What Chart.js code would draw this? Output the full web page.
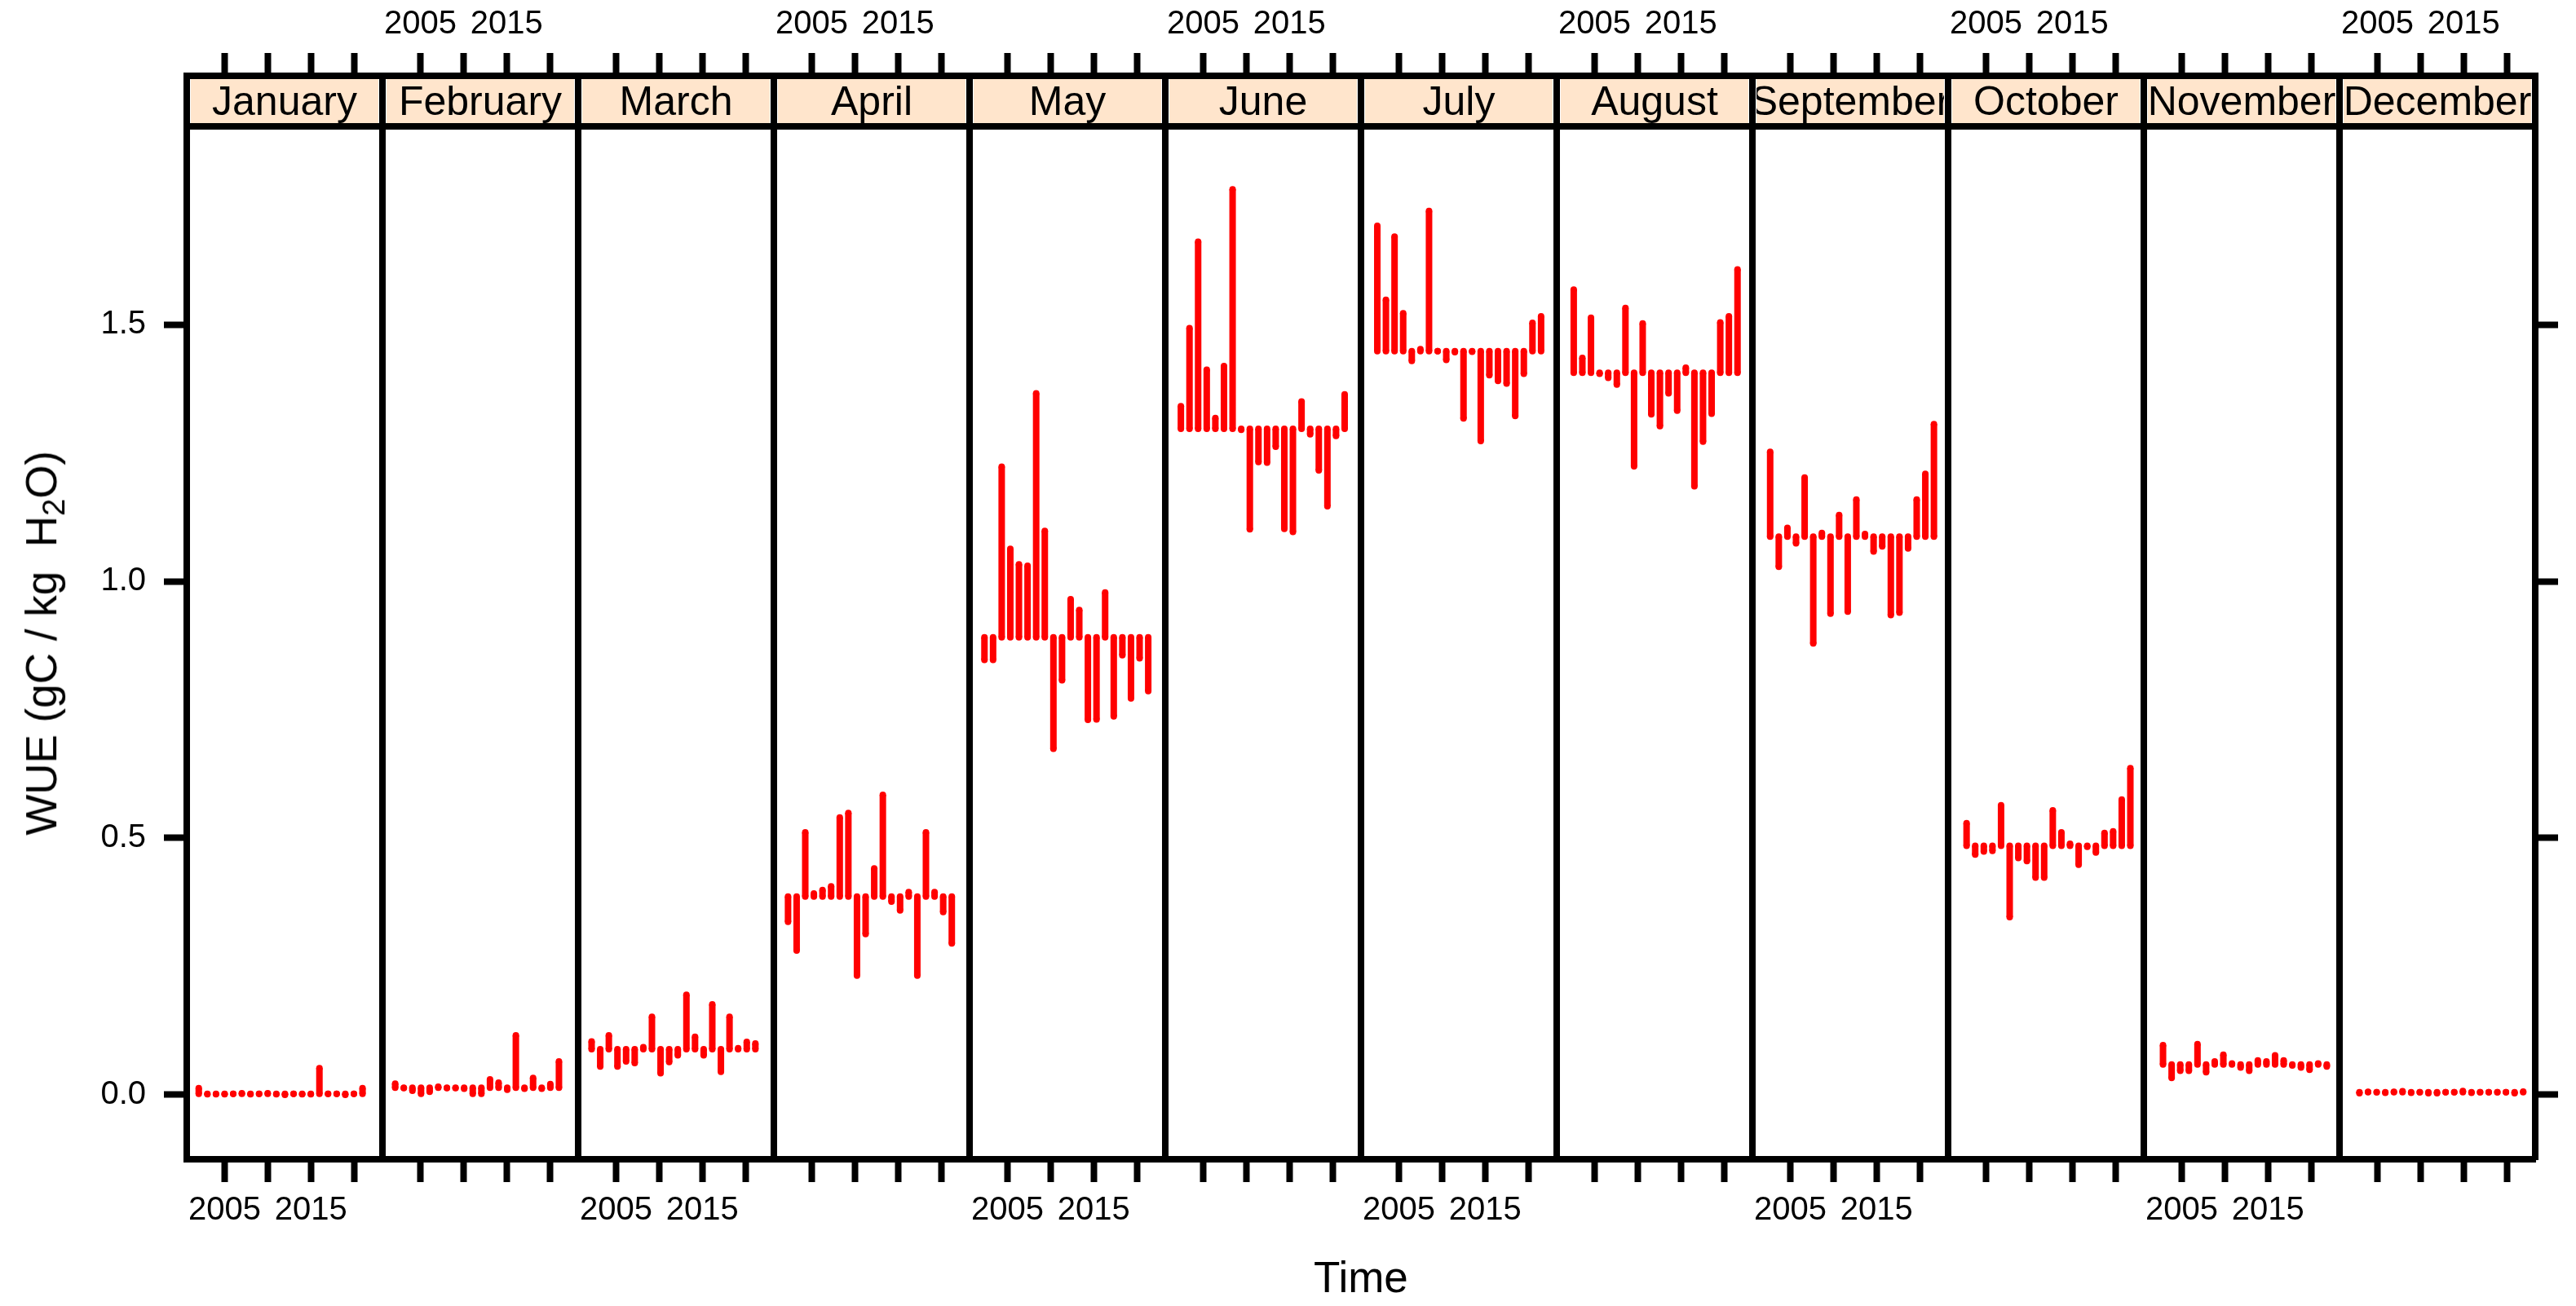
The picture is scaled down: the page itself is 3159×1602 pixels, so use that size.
<!DOCTYPE html>
<html><head><meta charset="utf-8">
<script src="https://cdn.jsdelivr.net/npm/chart.js@4.4.0/dist/chart.umd.min.js"></script>
<style>
html,body{margin:0;padding:0;background:#fff;}
#root{position:relative;width:3159px;height:1602px;overflow:hidden;font-family:'Liberation Sans',Arial,sans-serif;background:#fff;}
#root canvas{position:absolute;top:0;}
.strip{position:absolute;background:#ffe5cc;display:flex;justify-content:center;align-items:center;overflow:hidden;white-space:nowrap;font-size:50px;color:#000;z-index:5;}
.sbar{position:absolute;height:8px;background:#000;z-index:6;}
.title{position:absolute;color:#000;white-space:nowrap;font-size:53px;z-index:7;}
</style></head><body><div id="root"></div>
<script>
// ---- data ----
const months = ['January','February','March','April','May','June','July','August','September','October','November','December'];
const years = [2002,2003,2004,2005,2006,2007,2008,2009,2010,2011,2012,2013,2014,2015,2016,2017,2018,2019,2020,2021];
const monthMean = [0.002,0.014,0.089,0.386,0.891,1.297,1.448,1.406,1.087,0.485,0.059,0.005];
const wueJan = [0.013,0.001,0.001,0.001,0.002,0.003,0.001,0.002,0.003,0.001,0.000,0.002,0.001,0.001,0.052,0.002,0.002,0.000,0.002,0.013];
const wueFeb = [0.022,0.013,0.008,0.002,0.006,0.016,0.013,0.013,0.012,0.002,0.002,0.030,0.024,0.010,0.116,0.012,0.033,0.012,0.021,0.065];
const wueMar = [0.104,0.055,0.116,0.055,0.065,0.062,0.093,0.152,0.042,0.064,0.077,0.195,0.113,0.077,0.176,0.045,0.152,0.091,0.103,0.100];
const wueApr = [0.337,0.281,0.511,0.392,0.399,0.406,0.540,0.549,0.232,0.313,0.441,0.584,0.376,0.359,0.395,0.232,0.511,0.395,0.356,0.295];
const wueMay = [0.847,0.847,1.223,1.063,1.033,1.030,1.366,1.098,0.674,0.807,0.965,0.944,0.730,0.731,0.978,0.737,0.856,0.772,0.850,0.786];
const wueJun = [1.341,1.493,1.661,1.412,1.318,1.419,1.763,1.295,1.101,1.232,1.231,1.262,1.102,1.096,1.350,1.286,1.216,1.146,1.283,1.364];
const wueJul = [1.692,1.548,1.671,1.522,1.429,1.452,1.721,1.448,1.431,1.446,1.317,1.447,1.273,1.401,1.390,1.385,1.322,1.404,1.503,1.516];
const wueAug = [1.568,1.435,1.513,1.404,1.396,1.383,1.532,1.224,1.502,1.325,1.302,1.366,1.332,1.416,1.185,1.272,1.326,1.504,1.516,1.607];
const wueSep = [1.252,1.028,1.104,1.074,1.202,0.879,1.094,0.937,1.129,0.941,1.159,1.092,1.058,1.068,0.934,0.939,1.064,1.159,1.209,1.306];
const wueOct = [0.529,0.468,0.474,0.475,0.564,0.346,0.461,0.455,0.423,0.423,0.554,0.511,0.489,0.448,0.483,0.472,0.510,0.513,0.575,0.636];
const wueNov = [0.097,0.033,0.047,0.047,0.099,0.044,0.065,0.078,0.061,0.053,0.047,0.067,0.065,0.077,0.067,0.057,0.053,0.049,0.061,0.055];
const wueDec = [0.003,0.006,0.005,0.004,0.006,0.007,0.004,0.005,0.003,0.003,0.005,0.005,0.0075,0.004,0.005,0.005,0.005,0.005,0.003,0.0065];
const xTickValues = [2005,2010,2015,2020];
const xTickLabels = ['2005','','2015',''];
const yTickValues = [0,0.5,1,1.5];
const yTickLabels = ['0.0','0.5','1.0','1.5'];
const yTitleHTML = 'WUE (gC / kg &nbsp;H<sub style="font-size:0.72em;vertical-align:-0.25em;">2</sub>O)';
const xTitle = 'Time';

// ---- layout / style ----
const series = [wueJan,wueFeb,wueMar,wueApr,wueMay,wueJun,wueJul,wueAug,wueSep,wueOct,wueNov,wueDec];
const X0 = 229, PW = 240, TOP = 93, BOTTOM = 1422, H = 1602, MARG = 200, LW = 8;
const xMin = 2000.606, xMax = 2023.311;
const yMin = -0.1254, yMax = 1.98413;
const FONT = {family:"'Liberation Sans', Arial, sans-serif", size:40};
const root = document.getElementById('root');

function zeroPad(s){ s.paddingLeft=0; s.paddingRight=0; s.paddingTop=0; s.paddingBottom=0; }
function xAxis(pos, showLabels){
  return {
    type:'linear', position:pos, min:xMin, max:xMax, display:true,
    afterBuildTicks: s => { s.ticks = xTickValues.map(v => ({value:v})); },
    afterFit: s => { s.height = pos==='bottom' ? (H-BOTTOM) : TOP; zeroPad(s); },
    ticks:{display:showLabels, autoSkip:false, maxRotation:0, minRotation:0, padding:11, color:'#000', font:FONT,
      callback: v => { const k = xTickValues.indexOf(v); return k>=0 ? xTickLabels[k] : ''; }},
    grid:{display:true, drawOnChartArea:false, drawTicks:true, tickLength:28, tickWidth:LW, tickColor:'#000'},
    border:{display:true, width:LW, color:'#000'}
  };
}
function yAxis(pos, showTicks, showLabels){
  return {
    type:'linear', position:pos, min:yMin, max:yMax, display:true,
    afterBuildTicks: s => { s.ticks = yTickValues.map(v => ({value:v})); },
    afterFit: s => { s.width = MARG; zeroPad(s); },
    ticks:{display:showLabels, autoSkip:false, padding:22, color:'#000', font:FONT,
      callback: v => { const k = yTickValues.indexOf(v); return k>=0 ? yTickLabels[k] : ''; }},
    grid:{display:true, drawOnChartArea:false, drawTicks:showTicks, tickLength: showTicks?28:0, tickWidth:LW, tickColor:'#000'},
    border:{display:true, width:LW, color:'#000'}
  };
}

series.forEach((vals, i) => {
  const left = X0 + PW*i;
  const cv = document.createElement('canvas');
  cv.width = PW + 2*MARG; cv.height = H;
  cv.style.left = (left - MARG) + 'px';
  root.appendChild(cv);
  const pts = [];
  vals.forEach((v, j) => {
    const x = years[j] + i/12;
    pts.push({x:x, y:monthMean[i]}, {x:x, y:v}, {x:x, y:null});
  });
  new Chart(cv, {
    type:'line',
    data:{datasets:[{data:pts, borderColor:'#ff0000', backgroundColor:'#ff0000', borderWidth:8,
      pointRadius:4, pointBorderWidth:0, pointBackgroundColor:'#ff0000', pointHoverRadius:4,
      spanGaps:false, tension:0, borderCapStyle:'butt', fill:false}]},
    options:{
      responsive:false, animation:false, events:[], layout:{padding:0},
      plugins:{legend:{display:false}, tooltip:{enabled:false}, title:{display:false}},
      scales:{
        x: xAxis('bottom', i%2===0),
        x2: xAxis('top', i%2===1),
        y: yAxis('left', i===0, i===0),
        y2: yAxis('right', i===11, false)
      }
    }
  });
  const st = document.createElement('div');
  st.className = 'strip';
  st.style.left = (left+5)+'px'; st.style.width = (PW-10)+'px';
  st.style.top = '97px'; st.style.height = '54px';
  st.textContent = months[i];
  root.appendChild(st);
  const sb = document.createElement('div');
  sb.className = 'sbar';
  sb.style.left = (left-4)+'px'; sb.style.width = (PW+8)+'px'; sb.style.top = '151px';
  root.appendChild(sb);
});

const yt = document.createElement('div');
yt.className = 'title';
yt.innerHTML = yTitleHTML;
root.appendChild(yt);
const w = yt.offsetWidth, h = yt.offsetHeight;
yt.style.left = (54 - w/2)+'px'; yt.style.top = (789 - h/2)+'px';
yt.style.transform = 'rotate(-90deg)';

const xt = document.createElement('div');
xt.className = 'title';
xt.textContent = xTitle;
root.appendChild(xt);
xt.style.left = (1669 - xt.offsetWidth/2)+'px'; xt.style.top = (1566 - xt.offsetHeight/2)+'px';
</script></body></html>
